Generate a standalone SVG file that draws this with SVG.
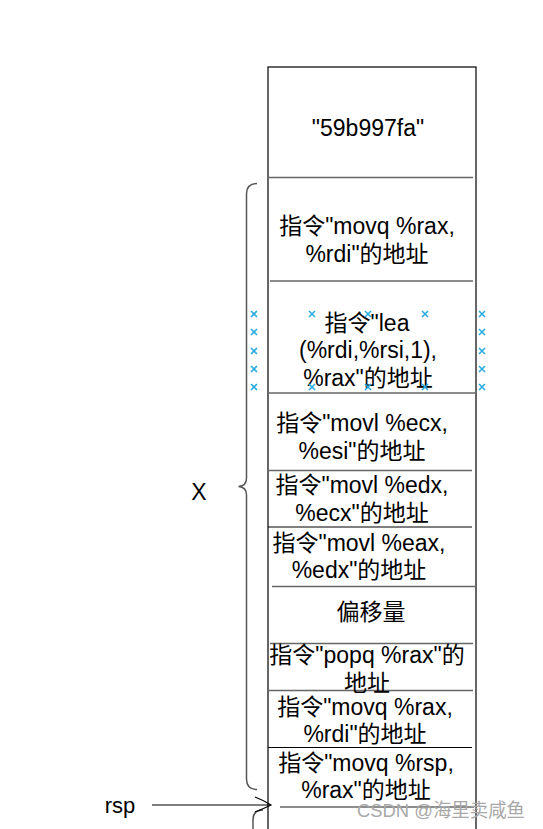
<svg xmlns="http://www.w3.org/2000/svg" width="543" height="829" viewBox="0 0 543 829">
<style>
.t{font-family:"Liberation Sans","Noto Sans CJK SC",sans-serif;font-size:23px;fill:#000;text-anchor:middle}
.g{stroke:#666;stroke-width:1.5;fill:none}
.k{stroke:#000;stroke-width:1.2;fill:none}
.br{stroke:#555;stroke-width:1.5;fill:none}
.sel{stroke:#29abe2;stroke-width:1.6;fill:none}
.wm{font-family:"Liberation Sans","Noto Sans CJK SC",sans-serif;font-size:19px;fill:#a8a8a8}
</style>
<rect width="543" height="829" fill="#fff"/>
<g id="stack">
<rect x="268" y="67" width="208" height="780" fill="none" stroke="#000" stroke-width="1.2"/>
</g>
<g id="dividers">
<line class="g" x1="268" y1="177.5" x2="473" y2="177.5"/>
<line class="g" x1="270" y1="281" x2="473" y2="281"/>
<line class="g" x1="268" y1="393" x2="476" y2="393"/>
<line class="g" x1="268" y1="470.5" x2="472" y2="470.5"/>
<line class="k" x1="268" y1="527" x2="472" y2="527"/>
<line class="g" x1="272" y1="586.5" x2="475" y2="586.5"/>
<line class="g" x1="270" y1="643.5" x2="473" y2="643.5"/>
<line class="g" x1="268" y1="690.5" x2="473" y2="690.5"/>
<line class="k" x1="268" y1="747.5" x2="472" y2="747.5"/>
<line class="g" x1="280" y1="807" x2="474" y2="807"/>
</g>
<g id="cell1"><text class="t" x="368" y="136">"59b997fa"</text></g>
<g id="cell2"><text class="t" x="367" y="234">指令"movq %rax,</text><text class="t" x="367" y="262">%rdi"的地址</text></g>
<g id="cell3"><text class="t" x="367" y="331">指令"lea</text><text class="t" x="368" y="358">(%rdi,%rsi,1),</text><text class="t" x="368" y="386">%rax"的地址</text></g>
<g id="cell4"><text class="t" x="362" y="431">指令"movl %ecx,</text><text class="t" x="362" y="459">%esi"的地址</text></g>
<g id="cell5"><text class="t" x="362" y="493">指令"movl %edx,</text><text class="t" x="362" y="521">%ecx"的地址</text></g>
<g id="cell6"><text class="t" x="359" y="551">指令"movl %eax,</text><text class="t" x="359" y="578">%edx"的地址</text></g>
<g id="cell7"><text class="t" x="371" y="620">偏移量</text></g>
<g id="cell8"><text class="t" x="367" y="663">指令"popq %rax"的</text><text class="t" x="367" y="691">地址</text></g>
<g id="cell9"><text class="t" x="365" y="715">指令"movq %rax,</text><text class="t" x="365" y="742">%rdi"的地址</text></g>
<g id="cell10"><text class="t" x="366" y="771">指令"movq %rsp,</text><text class="t" x="366" y="798">%rax"的地址</text></g>
<g id="brace">
<path class="br" d="M257,183.5 Q246.5,183.5 246.5,194 L246.5,478 Q246.5,486 238.5,486.5 Q246.5,487 246.5,495 L246.5,779 Q246.5,789.5 257,789.5"/>
<path class="br" d="M263,810 Q253,810 253,820 L253,835"/>
</g>
<g id="labelX"><text class="t" x="199" y="500">X</text></g>
<g id="labelRsp"><text class="t" x="120" y="813" style="font-size:22px">rsp</text></g>
<g id="connectors">
<line x1="152" y1="805" x2="270" y2="805" stroke="#000" stroke-width="1.2"/>
<path d="M255,797 Q263,800 271,805 Q263,809 255,812" fill="none" stroke="#000" stroke-width="1.2"/>
</g>
<g id="selection">
<path class="sel" d="M251,311l6,6m0,-6l-6,6 M251,329l6,6m0,-6l-6,6 M251,348l6,6m0,-6l-6,6 M251,366l6,6m0,-6l-6,6 M251,384l6,6m0,-6l-6,6 M479,311l6,6m0,-6l-6,6 M479,329l6,6m0,-6l-6,6 M479,348l6,6m0,-6l-6,6 M479,366l6,6m0,-6l-6,6 M479,384l6,6m0,-6l-6,6 M309,311l6,6m0,-6l-6,6 M365,311l6,6m0,-6l-6,6 M422,311l6,6m0,-6l-6,6 M309,384l6,6m0,-6l-6,6 M365,384l6,6m0,-6l-6,6 M422,384l6,6m0,-6l-6,6"/>
</g>
<text class="wm" x="357" y="817" textLength="168" lengthAdjust="spacingAndGlyphs">CSDN @海里卖咸鱼</text>
</svg>
